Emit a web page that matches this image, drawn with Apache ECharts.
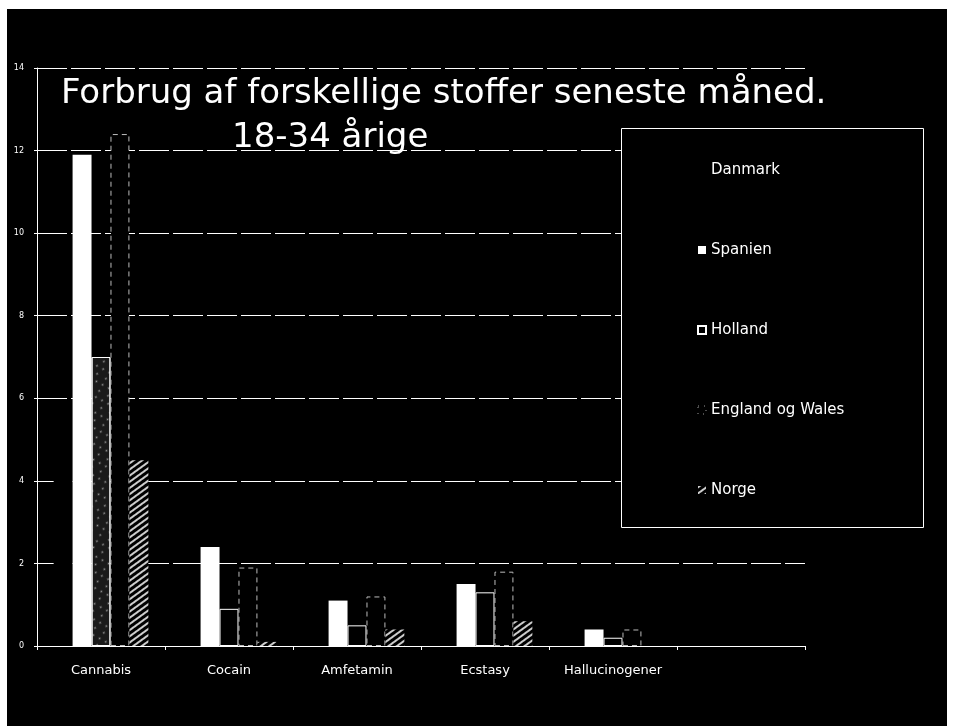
<!DOCTYPE html>
<html>
<head>
<meta charset="utf-8">
<script src="https://cdn.jsdelivr.net/npm/echarts@6/dist/echarts.min.js"></script>
<style>
  html, body { margin: 0; padding: 0; background: #fff; }
  #bg { position: absolute; left: 7px; top: 9px; width: 940px; height: 717px; background: #000; }
  #chart { position: absolute; left: 0; top: 0; width: 954px; height: 726px; }
</style>
</head>
<body>
<div id="bg"></div>
<div id="chart"></div>
<script>
// ---- data ----
var categories = ['Cannabis', 'Cocain', 'Amfetamin', 'Ecstasy', 'Hallucinogener', ''];
var seriesNames = ['Danmark', 'Spanien', 'Holland', 'England og Wales', 'Norge'];
var danmark = [5.2, 1.0, 0.5, 0.3, 0.2];
var spanien = [11.9, 2.4, 1.1, 1.5, 0.4];
var holland = [7.0, 0.9, 0.5, 1.3, 0.2];
var englandWales = [12.4, 1.9, 1.2, 1.8, 0.4];
var norge = [4.5, 0.1, 0.4, 0.6, 0];
var yTicks = [0, 2, 4, 6, 8, 10, 12, 14];
var titleLine1 = 'Forbrug af forskellige stoffer seneste måned.';
var titleLine2 = '18-34 årige';

var FONT = '"DejaVu Sans", "Open Sans", sans-serif';

var chart = echarts.init(document.getElementById('chart'), null, { renderer: 'canvas' });

var hollandData = holland.map(function (v, i) {
  if (i === 0) {
    return {
      value: v,
      itemStyle: {
        color: '#1a1a1a',
        decal: {
          symbol: 'circle',
          symbolSize: 0.6,
          color: 'rgba(255,255,255,0.55)',
          dashArrayX: [[3, 4], [0, 3, 3, 4]],
          dashArrayY: [3, 4],
          rotation: 0.5
        }
      }
    };
  }
  return v;
});

var englandStyle = { color: '#000', borderColor: '#bbb', borderWidth: 1, borderType: [5, 4] };

var option = {
  backgroundColor: 'transparent',
  animation: false,
  title: [
    {
      text: titleLine1,
      left: 61, top: 77, padding: 0,
      textStyle: { color: '#fff', fontFamily: FONT, fontSize: 34, fontWeight: 'normal' }
    },
    {
      text: titleLine2,
      left: 232, top: 121, padding: 0,
      textStyle: { color: '#fff', fontFamily: FONT, fontSize: 34, fontWeight: 'normal' }
    }
  ],
  grid: { left: 37, right: 149, top: 68, bottom: 80, containLabel: false },
  xAxis: {
    type: 'category',
    data: categories,
    axisLine: { show: true, lineStyle: { color: '#fff', width: 1 } },
    axisTick: { show: true, length: 4, lineStyle: { color: '#fff' } },
    axisLabel: { color: '#fff', fontFamily: FONT, fontSize: 13, margin: 18, interval: 0 },
    splitLine: { show: false }
  },
  yAxis: {
    type: 'value',
    min: yTicks[0],
    max: yTicks[yTicks.length - 1],
    interval: yTicks[1] - yTicks[0],
    axisLine: { show: true, lineStyle: { color: '#fff', width: 1 } },
    axisTick: { show: true, length: 3, lineStyle: { color: '#fff' } },
    axisLabel: { color: '#fff', fontFamily: FONT, fontSize: 8, margin: 13 },
    splitLine: { show: true, lineStyle: { color: '#fff', width: 1, type: [30, 4] } }
  },
  legend: {
    orient: 'vertical',
    left: 697, top: 161,
    itemWidth: 8, itemHeight: 8, itemGap: 62,
    icon: 'rect',
    padding: 0,
    z: 10,
    textStyle: { color: '#fff', fontFamily: FONT, fontSize: 15, lineHeight: 18 },
    data: [
      { name: seriesNames[0] },
      { name: seriesNames[1] },
      { name: seriesNames[2] },
      { name: seriesNames[3], itemStyle: { color: '#000', borderColor: '#999', borderWidth: 1, borderType: [1, 5] } },
      { name: seriesNames[4] }
    ]
  },
  graphic: [
    {
      type: 'rect', z: 5, silent: true,
      shape: { x: 621.5, y: 128.5, width: 302, height: 399 },
      style: { fill: '#000', stroke: '#fff', lineWidth: 1 }
    }
  ],
  series: [
    {
      name: seriesNames[0], type: 'bar', data: danmark,
      barGap: '0%', barCategoryGap: '26%',
      itemStyle: { color: '#000' }
    },
    {
      name: seriesNames[1], type: 'bar', data: spanien,
      itemStyle: { color: '#fff' }
    },
    {
      name: seriesNames[2], type: 'bar', data: hollandData,
      itemStyle: { color: '#000', borderColor: '#fff', borderWidth: 1 }
    },
    {
      name: seriesNames[3], type: 'bar', data: englandWales,
      itemStyle: englandStyle
    },
    {
      name: seriesNames[4], type: 'bar', data: norge,
      itemStyle: {
        color: '#000',
        decal: {
          symbol: 'rect',
          color: 'rgba(255,255,255,0.8)',
          dashArrayX: [1, 0],
          dashArrayY: [2, 3],
          rotation: -Math.PI / 5
        }
      }
    }
  ]
};

chart.setOption(option);
</script>
</body>
</html>
